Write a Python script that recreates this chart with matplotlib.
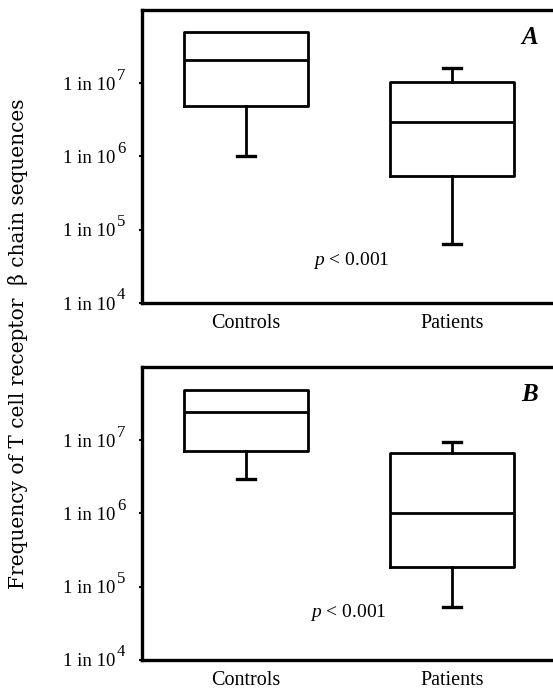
import matplotlib
matplotlib.use("Agg")
from matplotlib import pyplot as plt
import numpy as np

plt.rcParams["font.family"] = ["Liberation Serif", "DejaVu Serif"]
plt.rcParams["mathtext.fontset"] = "custom"
plt.rcParams["mathtext.rm"] = "Liberation Serif"
plt.rcParams["mathtext.it"] = "Liberation Serif:italic"
plt.rcParams["mathtext.bf"] = "Liberation Serif:bold"

# values (1 in N)
groups = ["Controls", "Patients"]
panels = ["A", "B"]

# panel A
a_whislo = [1.0e6, 6.4e4]
a_q1 = [4.9e6, 5.4e5]
a_med = [2.05e7, 3.0e6]
a_q3 = [5.0e7, 1.03e7]
a_whishi = [5.0e7, 1.6e7]

# panel B
b_whislo = [3.0e6, 5.3e4]
b_q1 = [7.1e6, 1.85e5]
b_med = [2.45e7, 1.0e6]
b_q3 = [4.9e7, 6.7e6]
b_whishi = [4.9e7, 9.4e6]

p_label = "$\\mathit{p}$ < 0.001"
ytick_exps = [4, 5, 6, 7]
ytick_vals = [10.0 ** e for e in ytick_exps]


def make_stats(whislo, q1, med, q3, whishi):
  stats = []
  for i in range(len(groups)):
    stats.append({"label": groups[i], "whislo": whislo[i], "q1": q1[i],
                  "med": med[i], "q3": q3[i], "whishi": whishi[i], "fliers": []})
  return stats


fig = plt.figure(figsize=(5.53, 6.94), dpi=100)
ax_a = fig.add_axes([0.2568, 0.5634, 0.774, 0.4222])
ax_b = fig.add_axes([0.2568, 0.049, 0.774, 0.4222])

data = [
  (ax_a, make_stats(a_whislo, a_q1, a_med, a_q3, a_whishi), (1.325, 3.85e4)),
  (ax_b, make_stats(b_whislo, b_q1, b_med, b_q3, b_whishi), (1.31, 4.5e4)),
]

line = dict(color="black", linewidth=2.0)
for (ax, stats, p_pos), letter in zip(data, panels):
  parts = ax.bxp(stats, positions=[1, 2], widths=0.6, showfliers=False,
                 boxprops=line, whiskerprops=line,
                 capprops=dict(color="black", linewidth=2.4),
                 medianprops=line, capwidths=0.09)
  # no upper whisker where it ends at the box
  for i, st in enumerate(stats):
    if st["whishi"] <= st["q3"]:
      parts["caps"][2 * i + 1].set_visible(False)
  ax.set_yscale("log")
  ax.set_ylim(1e4, 1e8)
  ax.set_xlim(0.495, 2.573)
  ax.set_yticks(ytick_vals)
  ax.set_yticklabels(["1 in 10"] * len(ytick_vals), fontsize=13.5)
  ax.minorticks_off()
  ax.tick_params(axis="y", length=2, width=1.5, pad=17)
  ax.tick_params(axis="x", length=0, pad=8, labelsize=14.5)
  # big superscript exponents, as in the original
  for e, v in zip(ytick_exps, ytick_vals):
    ax.annotate(str(e), xy=(0, v), xycoords=ax.get_yaxis_transform(),
                xytext=(-18, 5.5), textcoords="offset points",
                fontsize=12, ha="left", va="center", annotation_clip=False)
  for s in ax.spines.values():
    s.set_linewidth(2.4)
  ax.text(p_pos[0], p_pos[1], p_label, fontsize=14, ha="left", va="center")
  ax.text(0.905, 0.905, letter, transform=ax.transAxes, fontsize=18,
          fontweight="bold", fontstyle="italic", ha="center", va="center")

fig.text(0.032, 0.505, "Frequency of T cell receptor  \u03b2 chain sequences",
         rotation=90, ha="center", va="center", fontsize=14.5, family="DejaVu Serif")

fig.savefig("out.png", dpi=100)
